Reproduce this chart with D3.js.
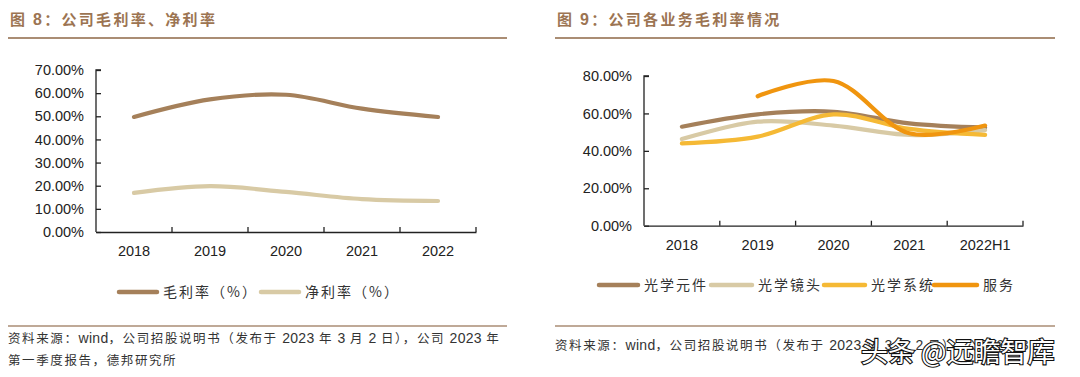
<!DOCTYPE html>
<html><head><meta charset="utf-8">
<script src="https://cdn.jsdelivr.net/npm/d3@7"></script>
<style>
body{margin:0;background:#fff;}
svg{display:block;}
</style></head>
<body><svg id="c" width="1080" height="377"></svg>
<script>
// ---- data ----
const years1 = ["2018","2019","2020","2021","2022"];
const grossMargin = [49.7, 57.3, 59.3, 53.3, 49.7];
const netMargin = [16.9, 19.8, 17.3, 14.2, 13.4];
const yTicks1 = [0,10,20,30,40,50,60,70];
const series1Names = ["毛利率（%）","净利率（%）"];

const years2 = ["2018","2019","2020","2021","2022H1"];
const opticalParts = [52.9, 59.5, 60.9, 54.7, 52.4];
const opticalLens = [46.3, 55.6, 53.5, 48.5, 51.1];
const opticalSystem = [44.0, 47.6, 59.5, 51.7, 48.5];
const services = [null, 69.2, 77.3, 49.4, 53.5];
const yTicks2 = [0,20,40,60,80];
const series2Names = ["光学元件","光学镜头","光学系统","服务"];

const title1 = "图 8：公司毛利率、净利率";
const title2 = "图 9：公司各业务毛利率情况";
const source1a = "资料来源：wind，公司招股说明书（发布于 2023 年 3 月 2 日），公司 2023 年";
const source1b = "第一季度报告，德邦研究所";
const source2 = "资料来源：wind，公司招股说明书（发布于 2023 年 3 月 2 日），公司 2023 年";

const cBrown = "#a5805a", cTan = "#d8caa5", cYellow = "#f5b935", cOrange = "#f0950f";
const titleColor = "#9c7452", ruleColor = "#aa8d74";
const numFont = "'Liberation Sans', Arial, sans-serif";
const cjkFont = "'Noto Sans CJK SC', sans-serif";

const svg = d3.select("#c");

function header(x0, x1, title){
  const t = svg.append("text").attr("x", x0+2).attr("y", 25).attr("fill", titleColor)
    .attr("font-family", cjkFont).attr("font-weight", "bold").attr("font-size", 15)
    .attr("letter-spacing", 2.3);
  title.split(/([0-9]+)/).forEach(part=>{
    if(!part) return;
    const ts = t.append("tspan").text(part);
    if(/[0-9]/.test(part)) ts.attr("font-family", numFont).attr("font-size", 16);
  });
  svg.append("line").attr("x1", x0).attr("x2", x1).attr("y1", 38).attr("y2", 38)
    .attr("stroke", ruleColor).attr("stroke-width", 2);
  svg.append("line").attr("x1", x0).attr("x2", x1).attr("y1", 326).attr("y2", 326)
    .attr("stroke", ruleColor).attr("stroke-width", 1.5);
}
header(8, 507, title1);
header(555, 1055, title2);

function sourceText(x, y, s){
  const t = svg.append("text").attr("x", x).attr("y", y).attr("fill", "#333")
    .attr("font-family", cjkFont).attr("font-size", 12.5).attr("letter-spacing", 1.6);
  s.split(/([A-Za-z0-9]+)/).forEach(part=>{
    if(!part) return;
    const ts = t.append("tspan").text(part);
    if(/[A-Za-z0-9]/.test(part)) ts.attr("font-family", numFont).attr("font-size", 14).attr("letter-spacing", 0.3);
  });
}
sourceText(8, 343, source1a);
sourceText(8, 365, source1b);
sourceText(555, 350, source2);

function chart(opts){
  const {x0, x1, yTop, yBot, cats, ticks, yMax, series, legend, labelY, legendY} = opts;
  const x = d3.scaleBand().domain(cats).range([x0, x1]);
  const y = d3.scaleLinear().domain([0, yMax]).range([yBot, yTop]);
  const g = svg.append("g");
  // y axis
  const ya = g.append("g").attr("transform", `translate(${x0},0)`)
    .call(d3.axisLeft(y).tickValues(ticks).tickSize(-5).tickPadding(12)
      .tickFormat(d=>d.toFixed(2)+"%"));
  ya.select(".domain").attr("d", `M5,${yTop}H0V${yBot}`).attr("stroke","#222").attr("stroke-width",1.3);
  ya.selectAll(".tick line").attr("stroke","#222").attr("stroke-width",1.3);
  ya.selectAll("text").attr("font-family", numFont).attr("font-size", 14.5).attr("fill","#222");
  // x axis
  const xa = g.append("g").attr("transform", `translate(0,${yBot})`)
    .call(d3.axisBottom(x).tickSize(0).tickPadding(labelY));
  xa.select(".domain").attr("stroke","#222").attr("stroke-width",1.3);
  xa.selectAll("text").attr("font-family", numFont).attr("font-size", 14.5).attr("fill","#222");
  // band boundary ticks (inside)
  const bounds = cats.map(c=>x(c)).slice(1).concat([x1]);
  g.selectAll(".bt").data(bounds).join("line")
    .attr("x1", d=>d).attr("x2", d=>d).attr("y1", yBot).attr("y2", yBot-5)
    .attr("stroke","#222").attr("stroke-width",1.3);
  // lines
  const line = d3.line().defined(d=>d.v!=null)
    .x(d=>x(d.c)+x.bandwidth()/2).y(d=>y(d.v)).curve(d3.curveCatmullRom.alpha(0.5));
  series.forEach(s=>{
    const pts = cats.map((c,i)=>({c, v:s.values[i]})).filter(d=>d.v!=null);
    g.append("path").datum(pts).attr("d", line).attr("fill","none")
      .attr("stroke", s.color).attr("stroke-width", 4.2).attr("stroke-linecap","round");
  });
  // legend
  legend.forEach((L,i)=>{
    g.append("line").attr("x1", L.lx).attr("x2", L.lx+L.w).attr("y1", legendY).attr("y2", legendY)
      .attr("stroke", series[i].color).attr("stroke-width", 4.5).attr("stroke-linecap","round");
    g.append("text").attr("x", L.lx+L.w+6).attr("y", legendY+5).attr("fill","#333")
      .attr("font-family", cjkFont).attr("font-size", 14).attr("letter-spacing", 2).text(series[i].name);
  });
}

chart({x0:96, x1:476, yTop:70, yBot:232, cats:years1, ticks:yTicks1, yMax:70,
  labelY:14, legendY:292,
  series:[{name:series1Names[0], values:grossMargin, color:cBrown},
          {name:series1Names[1], values:netMargin, color:cTan}],
  legend:[{lx:119, w:38},{lx:261, w:38}]});

chart({x0:644, x1:1023, yTop:76, yBot:225.7, cats:years2, ticks:yTicks2, yMax:80,
  labelY:14, legendY:285,
  series:[{name:series2Names[0], values:opticalParts, color:cBrown},
          {name:series2Names[1], values:opticalLens, color:cTan},
          {name:series2Names[2], values:opticalSystem, color:cYellow},
          {name:series2Names[3], values:services, color:cOrange}],
  legend:[{lx:599, w:39},{lx:711, w:41},{lx:824, w:41},{lx:934, w:43}]});

// watermark overlay
svg.append("text").attr("x", 861).attr("y", 362).attr("font-family", cjkFont)
  .attr("font-size", 27).attr("fill","#fff").attr("stroke","#111").attr("stroke-width",2.2)
  .attr("paint-order","stroke").text("头条 @远瞻智库");
</script>
</body></html>
